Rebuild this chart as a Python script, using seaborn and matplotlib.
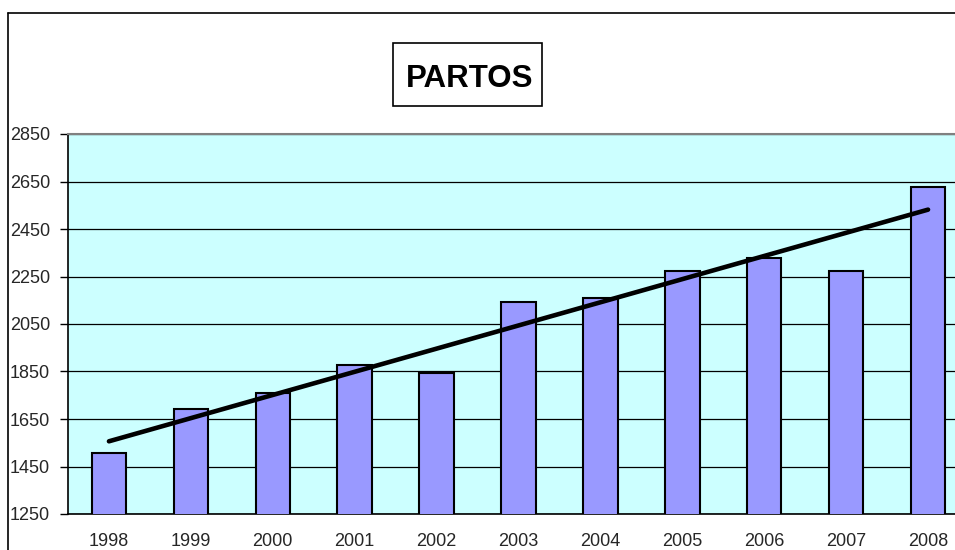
import numpy as np
import pandas as pd
import matplotlib
matplotlib.use("Agg")
import matplotlib.pyplot as plt
from matplotlib.lines import Line2D
from matplotlib.patches import Rectangle
import seaborn as sns

# Données
years = ["1998", "1999", "2000", "2001", "2002", "2003", "2004", "2005", "2006", "2007", "2008"]
partos = [1505, 1693, 1761, 1879, 1844, 2142, 2158, 2272, 2329, 2272, 2627]
y_ticks = [1250, 1450, 1650, 1850, 2050, 2250, 2450, 2650, 2850]
title = "PARTOS"

sns.set_style("white")
plt.rcParams["font.family"] = ["Liberation Sans", "DejaVu Sans"]

W, H = 955, 550
fig = plt.figure(figsize=(W / 100, H / 100), dpi=100)
fig.patch.set_facecolor("white")

# zone de tracé (déborde à droite comme l'original)
left, right, top, bottom = 68, 969, 134, 514
ax = fig.add_axes([left / W, 1 - bottom / H, (right - left) / W, (bottom - top) / H])
ax.set_facecolor("#CCFFFF")

df = pd.DataFrame({"Année": years, "Partos": partos})
sns.barplot(data=df, x="Année", y="Partos", color="#9999FF", saturation=1,
            edgecolor="black", linewidth=1.5, width=0.42, ax=ax, zorder=3)

# droite de tendance linéaire
sns.regplot(x=np.arange(len(partos)), y=np.array(partos), scatter=False, ci=None,
            truncate=True, color="black", line_kws={"lw": 3.3, "zorder": 4}, ax=ax)

ax.set_xlim(-0.5, len(years) - 0.5)
ax.set_ylim(y_ticks[0], y_ticks[-1])
ax.set_yticks(y_ticks)
ax.set_yticklabels([str(t) for t in y_ticks], fontsize=13)
ax.set_xticks(range(len(years)))
ax.set_xticklabels(years, fontsize=13)
ax.set_xticks(np.arange(-0.5, len(years), 1), minor=True)
ax.tick_params(axis="x", which="major", length=0, pad=14)
ax.tick_params(axis="x", which="minor", length=6, width=1, direction="out", color="black")
ax.tick_params(axis="y", length=6, width=1, direction="out", color="black", pad=7, left=True)
ax.set_xlabel("")
ax.set_ylabel("")

ax.yaxis.grid(True, color="black", linewidth=0.9, zorder=0)
ax.set_axisbelow(True)
for s in ["left", "bottom"]:
    ax.spines[s].set_color("black")
    ax.spines[s].set_linewidth(1.2)
ax.spines["top"].set_color("#808080")
ax.spines["top"].set_linewidth(1.5)
ax.spines["right"].set_visible(False)

# cadre extérieur du graphique
fig.add_artist(Line2D([8 / W, 8 / W], [0, 1 - 13 / H], color="black", lw=1.2))
fig.add_artist(Line2D([8 / W, 1], [1 - 13 / H, 1 - 13 / H], color="black", lw=1.2))

# titre encadré
fig.add_artist(Rectangle((393 / W, 1 - 106 / H), (542 - 393) / W, (106 - 43) / H,
                         transform=fig.transFigure, facecolor="white",
                         edgecolor="black", lw=1.2))
fig.text(469.5 / W, 1 - 87 / H, title, ha="center", va="baseline",
         fontsize=22.5, fontweight="bold", color="black")

fig.savefig("out.png", dpi=100)
